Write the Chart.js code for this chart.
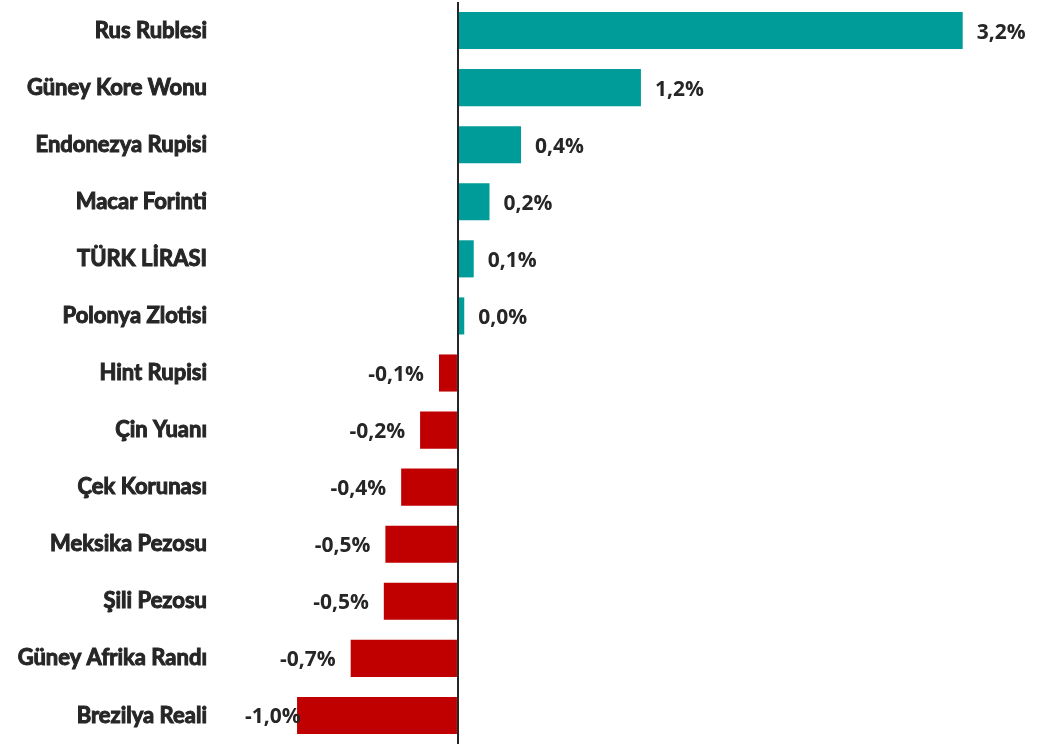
<!DOCTYPE html>
<html lang="tr">
<head>
  <meta charset="UTF-8">
  <title>Kur Değişimi</title>
  <script src="https://cdn.jsdelivr.net/npm/chart.js"></script>
  <style>
    html, body {
      margin: 0;
      padding: 0;
      background: #ffffff;
    }
    .chart-box {
      width: 1051px;
      height: 744px;
    }
  </style>
</head>
<body>
  <div class="chart-box">
    <canvas id="fxChart"></canvas>
  </div>

  <script>
    // para birimleri ve yüzde değişimler
    const currencies = [
      "Rus Rublesi", "Güney Kore Wonu", "Endonezya Rupisi", "Macar Forinti",
      "TÜRK LİRASI", "Polonya Zlotisi", "Hint Rupisi", "Çin Yuanı",
      "Çek Korunası", "Meksika Pezosu", "Şili Pezosu", "Güney Afrika Randı",
      "Brezilya Reali"
    ];
    const changes = [3.2, 1.16, 0.4, 0.2, 0.1, 0.04, -0.12, -0.24, -0.36, -0.46, -0.47, -0.68, -1.02];

    const posColor = "#009C99";
    const negColor = "#C00000";
    const textColor = "#262626";

    function fmt(v) {
      return v.toFixed(1).replace(".", ",") + "%";
    }

    // değer etiketleri
    const valueLabels = {
      id: "valueLabels",
      afterDatasetsDraw(chart) {
        const ctx = chart.ctx;
        const meta = chart.getDatasetMeta(0);
        const left = chart.chartArea.left;
        ctx.save();
        ctx.font = "bold 21px 'Open Sans'";
        ctx.fillStyle = textColor;
        ctx.textBaseline = "middle";
        meta.data.forEach((bar, i) => {
          const v = changes[i];
          const txt = fmt(v);
          if (v >= 0) {
            ctx.textAlign = "left";
            ctx.fillText(txt, bar.x + 14, bar.y + 2);
          } else {
            const w = ctx.measureText(txt).width;
            ctx.textAlign = "right";
            ctx.fillText(txt, Math.max(bar.x - 15, left + w), bar.y + 2);
          }
        });
        ctx.restore();
      }
    };

    new Chart(document.getElementById("fxChart"), {
      type: "bar",
      data: {
        labels: currencies,
        datasets: [{
          data: changes,
          backgroundColor: changes.map(v => v >= 0 ? posColor : negColor),
          barPercentage: 0.65,
          categoryPercentage: 1.0
        }]
      },
      options: {
        indexAxis: "y",
        responsive: true,
        maintainAspectRatio: false,
        animation: false,
        layout: { padding: { top: 2, right: 11, bottom: 0, left: 0 } },
        plugins: {
          legend: { display: false },
          tooltip: { enabled: false }
        },
        scales: {
          x: {
            min: -1.35,
            max: 3.69,
            z: 1,
            border: { display: false },
            ticks: { display: false, stepSize: 1 },
            grid: {
              drawTicks: false,
              lineWidth: 2,
              color: ctx => ctx.tick && ctx.tick.value === 0 ? "#262626" : "rgba(0,0,0,0)"
            }
          },
          y: {
            border: { display: false },
            grid: { display: false, drawTicks: false },
            ticks: {
              padding: 38,
              color: textColor,
              textStrokeColor: textColor,
              textStrokeWidth: 1,
              font: { family: "Lato, 'Open Sans'", size: 22, weight: "bold" }
            },
            afterFit(scale) {
              scale.width = 245;
              scale.paddingTop = 0;
              scale.paddingBottom = 0;
            }
          }
        }
      },
      plugins: [valueLabels]
    });
  </script>
</body>
</html>
